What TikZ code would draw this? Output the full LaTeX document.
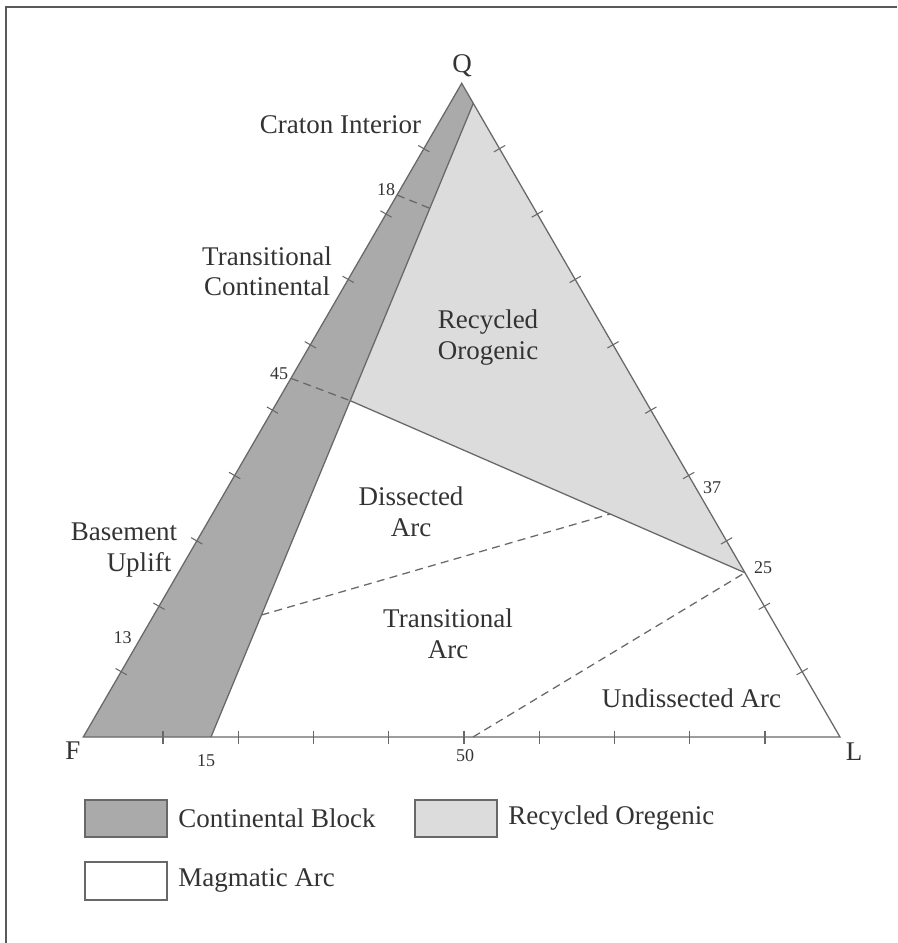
\documentclass[tikz,border=0pt]{standalone}
\usepackage{fontspec}
\setmainfont{Liberation Serif}
\usetikzlibrary{calc}
\definecolor{darkfill}{HTML}{AAAAAA}
\definecolor{lightfill}{HTML}{DCDCDC}
\definecolor{linec}{HTML}{686868}
\definecolor{textc}{HTML}{333333}
\begin{document}
\begin{tikzpicture}[x=0.75pt,y=-0.75pt,
  edge/.style={draw=linec,line width=0.95pt},
  tickmark/.style={draw=linec,line width=0.8pt},
  dashline/.style={draw=linec,line width=0.95pt,dash pattern=on 6pt off 4pt},
  lbl/.style={font=\fontsize{20.25}{24}\selectfont,text=textc,anchor=base,inner sep=0pt},
  num/.style={font=\fontsize{13.5}{16}\selectfont,text=textc,anchor=base,inner sep=0pt},
  legbox/.style={draw=linec,line width=0.95pt}]

\useasboundingbox (0,0) rectangle (897,943);
\draw[draw=black!65,line width=1.1pt] (6,943) -- (6,7) -- (897,7);

% vertices and key points
\coordinate (F) at (83.3,737);
\coordinate (Q) at (461.7,83.3);
\coordinate (L) at (840,737);
\coordinate (B15) at (211,737);
\coordinate (T) at (473.3,103.3);
\coordinate (B50) at (473,737);
\coordinate (P45) at ($(Q)!0.4513!(F)$);
\coordinate (P45r) at ($(B15)!0.5307!(T)$);
\coordinate (P25) at ($(Q)!0.7487!(L)$);
\coordinate (P18) at ($(Q)!0.1709!(F)$);
\coordinate (P18r) at ($(B15)!0.8343!(T)$);
\coordinate (Parc) at ($(B15)!0.1925!(T)$);
\coordinate (Pmid) at ($(P45r)!0.6587!(P25)$);

% fields
\fill[darkfill] (F) -- (Q) -- (T) -- (B15) -- cycle;
\fill[lightfill] (T) -- (P45r) -- (P25) -- cycle;

% boundaries
\draw[edge] (F) -- (Q) -- (L) -- cycle;
\draw[edge] (B15) -- (T);
\draw[edge] (P45r) -- (P25);
\draw[dashline] (P18) -- (P18r);
\draw[dashline] (P45) -- (P45r);
\draw[dashline] (Parc) -- (Pmid);
\draw[dashline] (B50) -- (P25);

% ticks
\foreach \k in {1,...,9}{
  \draw[tickmark] ($(Q)!\k/10!(F)$) +(-5.6,-3.2) -- +(5.6,3.2);
  \draw[tickmark] ($(Q)!\k/10!(L)$) +(-5.6,3.2) -- +(5.6,-3.2);
  \draw[tickmark] ({163+75.25*(\k-1)},730.5) -- ({163+75.25*(\k-1)},743.5);
}

% vertex labels
\node[lbl] (lQ) at (462,72) {Q};
\node[lbl] (lF) at (73,759) {F};
\node[lbl] (lL) at (854,760) {L};

% numbers
\node[num] (n18) at (386,195) {18};
\node[num] (n45) at (279,379) {45};
\node[num] (n13) at (122.5,643) {13};
\node[num] (n37) at (712,493) {37};
\node[num] (n25) at (763,573) {25};
\node[num] (n15) at (206,766) {15};
\node[num] (n50) at (465,761) {50};

% field labels
\node[lbl] (craton) at (340.5,133) {Craton Interior};
\node[lbl] (tc1) at (267,265.7) {Transitional};
\node[lbl] (tc2) at (267,295.7) {Continental};
\node[lbl] (ro1) at (488,328) {Recycled};
\node[lbl] (ro2) at (488,359) {Orogenic};
\node[lbl] (da1) at (411,505) {Dissected};
\node[lbl] (da2) at (411,536) {Arc};
\node[lbl] (bu1) at (124,540) {Basement};
\node[lbl] (bu2) at (139,571) {Uplift};
\node[lbl] (ta1) at (448,627) {Transitional};
\node[lbl] (ta2) at (448,658) {Arc};
\node[lbl] (ua) at (691.5,707) {Undissected Arc};

% legend
\draw[legbox,fill=darkfill] (85,800) rectangle (167,837);
\draw[legbox,fill=lightfill] (415,800) rectangle (497,837);
\draw[legbox,fill=white] (85,862) rectangle (167,900);
\node[lbl,anchor=base west] (leg1) at (178,827) {Continental Block};
\node[lbl,anchor=base west] (leg2) at (508,824) {Recycled Oregenic};
\node[lbl,anchor=base west] (leg3) at (178,886) {Magmatic Arc};
\end{tikzpicture}
\end{document}
